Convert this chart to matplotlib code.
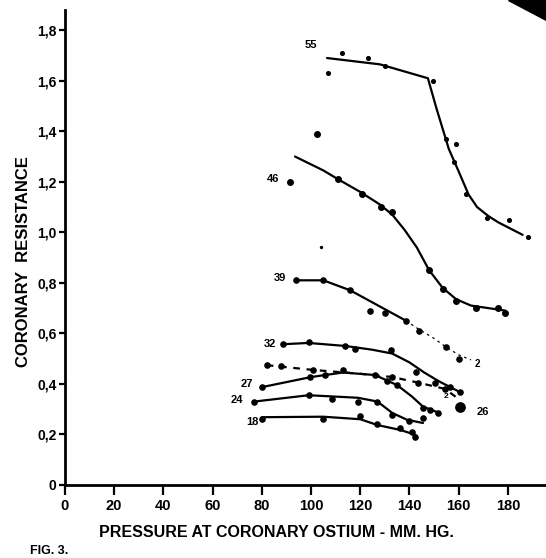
import matplotlib
matplotlib.use('Agg')
import matplotlib.pyplot as plt
from matplotlib.patches import Polygon

plt.rcParams['font.family'] = ['Liberation Sans', 'DejaVu Sans']

# x ticks / y ticks
x_ticks = [0, 20, 40, 60, 80, 100, 120, 140, 160, 180]
y_ticks = [0, 0.2, 0.4, 0.6, 0.8, 1.0, 1.2, 1.4, 1.6, 1.8]
y_tick_labels = ['0', '0,2', '0,4', '0,6', '0,8', '1,0', '1,2', '1,4', '1,6', '1,8']

# drawn (hand-fitted) curves: pressure, resistance
curve55_x = [106.5, 128, 147.5, 151, 156, 160.5, 164, 167.5, 172, 176, 181, 186]
curve55_y = [1.69, 1.665, 1.61, 1.49, 1.33, 1.23, 1.15, 1.10, 1.065, 1.04, 1.015, 0.99]
curve46_x = [93.5, 105, 111, 120, 128, 133, 138, 143, 148, 153.5, 159, 165, 172, 179]
curve46_y = [1.30, 1.245, 1.21, 1.16, 1.11, 1.07, 1.01, 0.94, 0.85, 0.78, 0.735, 0.71, 0.70, 0.69]
curve39_x = [94, 105, 116, 138.6]
curve39_y = [0.81, 0.81, 0.77, 0.65]
curve39_dot_x = [138.6, 144, 150, 155, 160, 165]
curve39_dot_y = [0.65, 0.615, 0.58, 0.545, 0.515, 0.495]
curve32_x = [88.6, 99, 114, 125, 133, 140, 146, 152, 157, 161]
curve32_y = [0.557, 0.562, 0.55, 0.535, 0.52, 0.485, 0.445, 0.41, 0.385, 0.365]
curve26_x = [82, 101, 120, 133, 143.5, 154.5, 160]
curve26_y = [0.474, 0.455, 0.44, 0.427, 0.405, 0.38, 0.34]
curve27_x = [80, 100, 113, 126, 135, 141, 145.5, 152.4]
curve27_y = [0.387, 0.427, 0.445, 0.435, 0.395, 0.35, 0.31, 0.284]
curve24_x = [77, 99, 119, 127, 133, 139, 145.5]
curve24_y = [0.33, 0.355, 0.345, 0.33, 0.285, 0.258, 0.245]
curve18_x = [80, 105, 120, 127, 136.5, 142.5]
curve18_y = [0.268, 0.27, 0.26, 0.237, 0.217, 0.198]

# measured points
pts55_x = [107, 112.6, 123, 130, 149.6, 155, 159, 158, 163, 171.5, 180.5, 188]
pts55_y = [1.63, 1.71, 1.69, 1.66, 1.60, 1.37, 1.35, 1.28, 1.15, 1.055, 1.05, 0.98]
pts46_x = [91.5, 102.6, 111, 120.7, 128.5, 133, 148, 153.7, 159, 167, 176, 179]
pts46_y = [1.20, 1.39, 1.21, 1.15, 1.10, 1.08, 0.85, 0.775, 0.73, 0.70, 0.70, 0.68]
pts39_x = [94, 105, 116, 124, 130, 138.6, 144, 155, 160]
pts39_y = [0.81, 0.81, 0.77, 0.69, 0.68, 0.65, 0.61, 0.545, 0.50]
pts32_x = [88.6, 99, 114, 118, 132.5, 142.7, 150.4, 156.5, 160.6]
pts32_y = [0.557, 0.565, 0.55, 0.54, 0.533, 0.447, 0.403, 0.387, 0.368]
pts26_x = [82, 88, 101, 133, 143.5, 154.5]
pts26_y = [0.474, 0.47, 0.455, 0.427, 0.403, 0.38]
pts27_x = [80, 99.6, 105.7, 113, 126, 131, 135, 145.5, 148.4, 151.6]
pts27_y = [0.387, 0.427, 0.435, 0.455, 0.435, 0.41, 0.395, 0.304, 0.296, 0.284]
pts24_x = [77, 99, 108.5, 119, 127, 133, 140, 145.5]
pts24_y = [0.33, 0.356, 0.34, 0.33, 0.328, 0.277, 0.253, 0.265]
pts18_x = [80, 105, 120, 127, 136, 141, 142.3]
pts18_y = [0.26, 0.262, 0.273, 0.24, 0.225, 0.21, 0.19]
big_dot_x = [160.6]
big_dot_y = [0.31]
stray_x = [104]
stray_y = [0.94]

# curve labels
label_text = ['55', '46', '39', '32', '27', '24', '18', '26']
label_x = [100, 84.5, 87.4, 83.3, 74, 70, 76, 170]
label_y = [1.74, 1.21, 0.82, 0.557, 0.40, 0.336, 0.25, 0.29]

fig = plt.figure(figsize=(5.46, 5.58), dpi=100)
ax = fig.add_axes([0.119, 0.131, 0.881, 0.851])

line_kw = dict(color='black', lw=1.6, solid_capstyle='round')
ax.plot(curve55_x, curve55_y, **line_kw)
ax.plot(curve46_x, curve46_y, **line_kw)
ax.plot(curve39_x, curve39_y, **line_kw)
ax.plot(curve39_dot_x, curve39_dot_y, color='black', lw=0.9, ls=(0, (2, 3)))
ax.plot(curve32_x, curve32_y, **line_kw)
ax.plot(curve26_x, curve26_y, color='black', lw=1.6, ls=(0, (3, 3)))
ax.plot(curve27_x, curve27_y, **line_kw)
ax.plot(curve24_x, curve24_y, **line_kw)
ax.plot(curve18_x, curve18_y, **line_kw)

ax.scatter(pts55_x, pts55_y, s=7, color='black', zorder=3)
ax.scatter(pts46_x, pts46_y, s=16, color='black', zorder=3)
for px, py in [(pts39_x, pts39_y), (pts32_x, pts32_y), (pts26_x, pts26_y),
               (pts27_x, pts27_y), (pts24_x, pts24_y), (pts18_x, pts18_y)]:
    ax.scatter(px, py, s=14, color='black', zorder=3)
ax.scatter(big_dot_x, big_dot_y, s=45, color='black', zorder=3)
ax.scatter(stray_x, stray_y, s=2, color='black', zorder=3)

for t, lx, ly in zip(label_text, label_x, label_y):
    ax.text(lx, ly, t, fontsize=8, fontweight='bold', ha='center', va='center')
ax.text(167.5, 0.48, '2', fontsize=7, fontweight='bold', ha='center', va='center')
ax.text(155, 0.35, '2', fontsize=6, fontweight='bold', ha='center', va='center')

ax.set_xlim(0, 195.5)
ax.set_ylim(0, 1.88)
ax.set_xticks(x_ticks)
ax.set_xticklabels([str(v) for v in x_ticks], fontsize=10.5, fontweight='bold')
ax.set_yticks(y_ticks)
ax.set_yticklabels(y_tick_labels, fontsize=10, fontweight='bold')
ax.tick_params(axis='x', direction='out', length=7, width=1.6, pad=3)
ax.tick_params(axis='y', direction='out', length=4, width=1.6, pad=2)

for side in ['top', 'right']:
    ax.spines[side].set_visible(False)
for side in ['left', 'bottom']:
    ax.spines[side].set_linewidth(2)

ax.set_xlabel('PRESSURE AT CORONARY OSTIUM - MM. HG.', fontsize=11.5, fontweight='bold')
ax.xaxis.set_label_coords(0.44, -0.085)
ax.set_ylabel('CORONARY  RESISTANCE', fontsize=12, fontweight='bold')
ax.yaxis.set_label_coords(-0.07, 0.47)

fig.text(0.055, 0.002, 'FIG. 3.', fontsize=9, fontweight='bold', va='bottom')

# dark scan edge at top right corner
fig.patches.append(Polygon([[0.93, 1.0], [1.0, 1.0], [1.0, 0.965]], closed=True,
                           transform=fig.transFigure, color='black'))

fig.savefig('out.png', dpi=100)
